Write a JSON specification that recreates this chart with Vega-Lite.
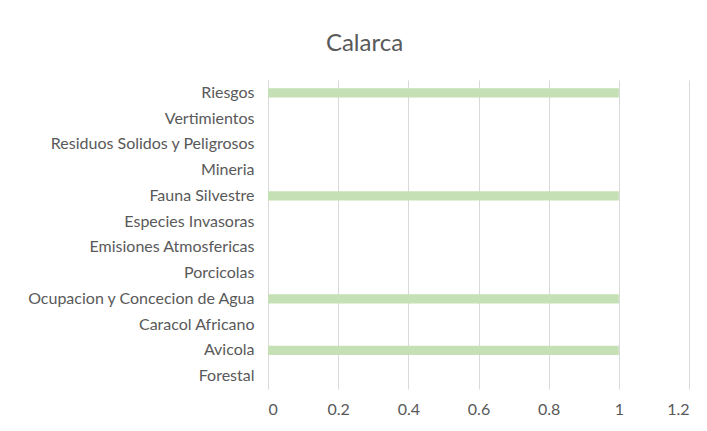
{
  "$schema": "https://vega.github.io/schema/vega-lite/v6.json",
  "width": 421,
  "height": 309,
  "autosize": {"type": "none"},
  "padding": {"left": 268, "top": 80, "right": 18, "bottom": 42},
  "background": "white",
  "title": {
    "text": "Calarca",
    "font": "Lato",
    "fontSize": 24,
    "fontWeight": "normal",
    "color": "#595959",
    "anchor": "middle",
    "dx": -114,
    "offset": 24
  },
  "data": {
    "values": [
      {"categoria": "Riesgos", "valor": 1},
      {"categoria": "Vertimientos", "valor": 0},
      {"categoria": "Residuos Solidos y Peligrosos", "valor": 0},
      {"categoria": "Mineria ", "valor": 0},
      {"categoria": "Fauna Silvestre", "valor": 1},
      {"categoria": "Especies Invasoras ", "valor": 0},
      {"categoria": "Emisiones Atmosfericas", "valor": 0},
      {"categoria": "Porcicolas", "valor": 0},
      {"categoria": "Ocupacion y Concecion de Agua", "valor": 1},
      {"categoria": "Caracol Africano", "valor": 0},
      {"categoria": "Avicola", "valor": 1},
      {"categoria": "Forestal", "valor": 0}
    ]
  },
  "mark": {"type": "bar", "color": "#c5e0b4"},
  "encoding": {
    "y": {
      "field": "categoria",
      "type": "nominal",
      "sort": null,
      "scale": {"paddingInner": 0.64, "paddingOuter": 0.32},
      "axis": {
        "title": null,
        "ticks": false,
        "domain": true,
        "domainColor": "#d9d9d9",
        "labelFont": "Lato",
        "labelFontSize": 16,
        "labelColor": "#595959",
        "labelPadding": 14,
        "labelLimit": 400,
        "grid": false
      }
    },
    "x": {
      "field": "valor",
      "type": "quantitative",
      "scale": {"domain": [0, 1.2], "nice": false},
      "axis": {
        "title": null,
        "values": [0, 0.2, 0.4, 0.6, 0.8, 1, 1.2],
        "format": "~g",
        "ticks": false,
        "domain": false,
        "grid": true,
        "gridColor": "#d9d9d9",
        "labelFont": "Lato",
        "labelFontSize": 16,
        "labelColor": "#595959",
        "labelPadding": 12
      }
    }
  },
  "config": {"view": {"stroke": null}}
}
